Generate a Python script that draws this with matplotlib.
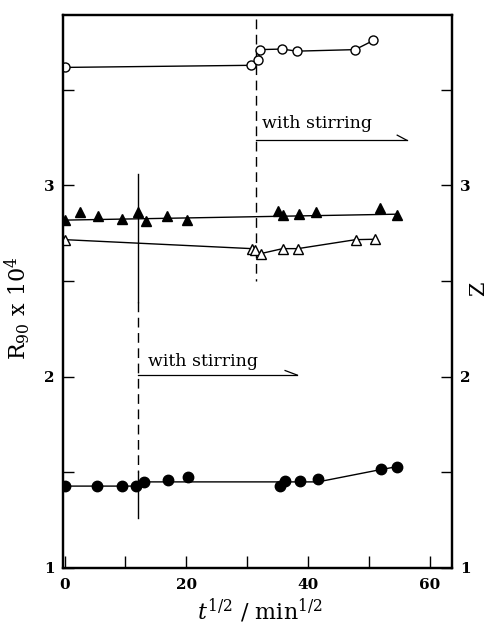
import matplotlib.pyplot as plt
from matplotlib.ticker import FixedLocator

plt.rcParams['font.family'] = ['DejaVu Serif']
plt.rcParams['mathtext.fontset'] = 'dejavuserif'

# %% data
# open circles
oc_x = [0, 30.6, 31.8, 32.1, 35.7, 38.1, 47.7, 50.7]
oc_y = [3.616, 3.627, 3.656, 3.709, 3.712, 3.701, 3.709, 3.757]

# filled triangles (line is a fit)
ft_x = [0, 2.5, 5.5, 9.5, 12.1, 13.3, 16.8, 20.1, 35.1, 35.9, 38.5, 41.3, 51.8, 54.5]
ft_y = [2.817, 2.859, 2.838, 2.824, 2.863, 2.814, 2.838, 2.820, 2.864, 2.843,
        2.852, 2.859, 2.883, 2.847]
ft_line_x = [0, 54.5]
ft_line_y = [2.818, 2.849]

# open triangles
ot_x = [0, 30.7, 31.3, 32.2, 35.8, 38.3, 47.8, 51.0]
ot_y = [2.716, 2.669, 2.664, 2.643, 2.669, 2.669, 2.716, 2.718]

# filled circles (line drawn separately)
fc_x = [0, 5.4, 9.4, 11.8, 13.1, 17.0, 20.3, 35.4, 36.2, 38.7, 41.6, 52.0, 54.5]
fc_y = [1.428, 1.428, 1.428, 1.430, 1.450, 1.460, 1.474, 1.430, 1.456, 1.456,
        1.463, 1.515, 1.529]
fc_line_x = [0, 12.0, 12.0, 41.6, 52.0, 54.5]
fc_line_y = [1.428, 1.428, 1.450, 1.450, 1.515, 1.529]

# stirring start times
stir1_x = 12.0
stir2_x = 31.5

# %% plot
fig = plt.figure(figsize=(4.9, 6.27), dpi=100)
ax = fig.add_axes([0.1286, 0.0941, 0.7939, 0.882])

ax.plot(oc_x, oc_y, '-', color='black', lw=1.0, marker='o', ms=6.5,
        mfc='white', mec='black', mew=1.0, zorder=3)
ax.plot(ft_line_x, ft_line_y, '-', color='black', lw=1.0, zorder=2)
ax.plot(ft_x, ft_y, ls='none', marker='^', ms=7, color='black', zorder=3)
ax.plot(ot_x, ot_y, '-', color='black', lw=1.0, marker='^', ms=6.5,
        mfc='white', mec='black', mew=1.0, zorder=3)
ax.plot(fc_line_x, fc_line_y, '-', color='black', lw=1.0, zorder=2)
ax.plot(fc_x, fc_y, ls='none', marker='o', ms=7.5, color='black', zorder=3)

# stirring markers
ax.plot([stir1_x, stir1_x], [3.06, 2.39], '-', color='black', lw=1.0)
ax.plot([stir1_x, stir1_x], [2.39, 1.50], '--', color='black', lw=1.0, dashes=(7, 4))
ax.plot([stir1_x, stir1_x], [1.50, 1.26], '-', color='black', lw=1.0)
ax.plot([stir2_x, stir2_x], [3.87, 2.50], '--', color='black', lw=1.0, dashes=(7, 4))

# arrows with half heads
ax.plot([stir2_x, 56.2], [3.235, 3.235], color='black', lw=0.9)
ax.plot([54.6, 56.2], [3.262, 3.235], color='black', lw=0.9)
ax.text(32.4, 3.30, 'with stirring', fontsize=12.5, ha='left', va='baseline')

ax.plot([stir1_x, 38.2], [2.008, 2.008], color='black', lw=0.9)
ax.plot([36.2, 38.2], [2.032, 2.008], color='black', lw=0.9)
ax.text(13.7, 2.055, 'with stirring', fontsize=12.5, ha='left', va='baseline')

ax.set_xlim(-0.25, 63.6)
ax.set_ylim(1, 3.89)

ax.xaxis.set_major_locator(FixedLocator([0, 20, 40, 60]))
ax.xaxis.set_minor_locator(FixedLocator([10, 30, 50]))
ax.yaxis.set_major_locator(FixedLocator([1, 2, 3]))
ax.yaxis.set_minor_locator(FixedLocator([1.5, 2.5, 3.5]))

ax.tick_params(which='both', direction='in', top=False, right=False,
               width=1.0, labelsize=11)
ax.tick_params(axis='x', which='both', length=9, pad=7)
ax.tick_params(axis='y', which='both', length=8, pad=6)
for lbl in ax.get_xticklabels() + ax.get_yticklabels():
    lbl.set_fontweight('bold')

for s in ax.spines.values():
    s.set_linewidth(1.6)

ax2 = ax.twinx()
ax2.set_ylim(ax.get_ylim())
ax2.yaxis.set_major_locator(FixedLocator([1, 2, 3]))
ax2.yaxis.set_minor_locator(FixedLocator([1.5, 2.5, 3.5]))
ax2.tick_params(which='both', direction='in', length=8, width=1.0,
                labelsize=11, pad=6)
for lbl in ax2.get_yticklabels():
    lbl.set_fontweight('bold')
for s in ax2.spines.values():
    s.set_linewidth(1.6)

ax.set_xlabel(r'$t^{1/2}$ / min$^{1/2}$', fontsize=16)
ax.xaxis.set_label_coords(0.506, -0.052)
ax.set_ylabel(r'R$_{90}$ x 10$^{4}$', fontsize=16)
ax.yaxis.set_label_coords(-0.078, 0.47)

# right-hand label
fig.text(0.977, 0.54, 'Z', fontsize=15, rotation=90, ha='center', va='center')

fig.savefig('out.png', dpi=100)
